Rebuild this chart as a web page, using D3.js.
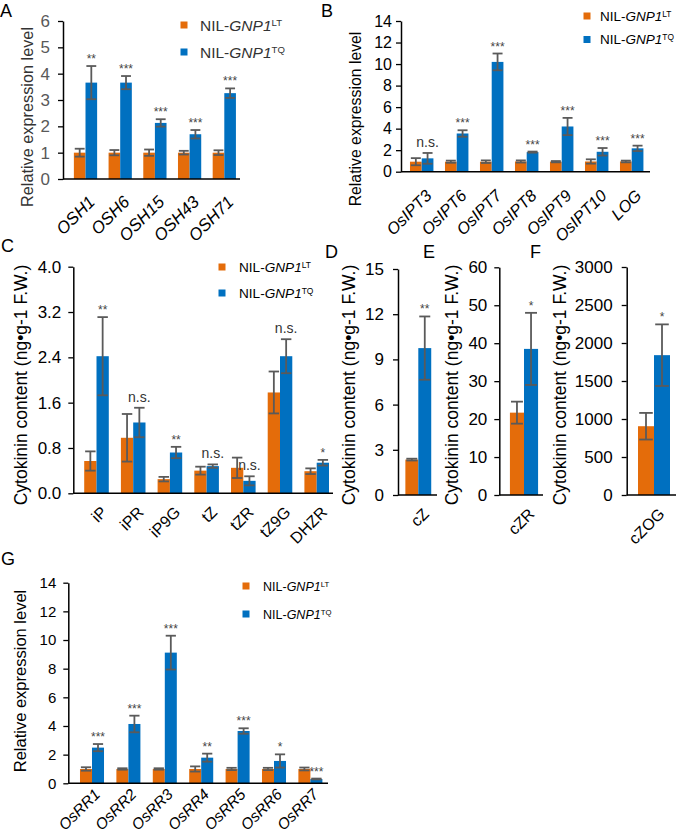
<!DOCTYPE html>
<html><head><meta charset="utf-8">
<script src="https://cdn.jsdelivr.net/npm/d3@7"></script>
<style>
body{margin:0;background:#fff}
svg{display:block}
text{font-family:"Liberation Sans",Arial,Helvetica,sans-serif}
</style>
</head><body>
<svg id="chart" width="676" height="840"></svg>
<script>
// ---------- DATA ----------
const seriesNames = ["LT", "TQ"];

const aGenes  = ["OSH1","OSH6","OSH15","OSH43","OSH71"];
const aLT     = [1.0, 1.0, 1.0, 1.0, 1.0];
const aLTerr  = [0.15, 0.10, 0.12, 0.07, 0.09];
const aTQ     = [3.66, 3.66, 2.13, 1.70, 3.26];
const aTQerr  = [0.63, 0.25, 0.14, 0.16, 0.18];
const aSig    = ["**","***","***","***","***"];
const aTicks  = [0,1,2,3,4,5,6];

const bGenes  = ["OsIPT3","OsIPT6","OsIPT7","OsIPT8","OsIPT9","OsIPT10","LOG"];
const bLT     = [0.93, 0.93, 0.93, 0.95, 0.93, 0.95, 0.95];
const bLTerr  = [0.33, 0.10, 0.12, 0.10, 0.06, 0.20, 0.08];
const bTQ     = [1.24, 3.55, 10.2, 1.82, 4.2, 1.85, 2.17];
const bTQerr  = [0.50, 0.30, 0.78, 0.05, 0.80, 0.35, 0.25];
const bSig    = ["n.s.","***","***","***","***","***","***"];
const bTicks  = [0,2,4,6,8,10,12,14];

const cCats   = ["iP","iPR","iP9G","tZ","tZR","tZ9G","DHZR"];
const cLT     = [0.57, 0.98, 0.25, 0.40, 0.45, 1.78, 0.39];
const cLTerr  = [0.17, 0.42, 0.04, 0.07, 0.18, 0.37, 0.05];
const cTQ     = [2.42, 1.25, 0.72, 0.48, 0.22, 2.42, 0.54];
const cTQerr  = [0.69, 0.26, 0.10, 0.03, 0.08, 0.30, 0.05];
const cSig    = ["**","n.s.","**","n.s.","n.s.","n.s.","*"];
const cTicks  = [0,0.8,1.6,2.4,3.2,4.0];

const dCats = ["cZ"];   const dLT = [2.35]; const dLTerr = [0.06]; const dTQ = [9.75]; const dTQerr = [2.1];  const dSig = ["**"];
const dTicks = [0,3,6,9,12,15];
const eCats = ["cZR"];  const eLT = [21.7]; const eLTerr = [2.9];  const eTQ = [38.5]; const eTQerr = [9.5];  const eSig = ["*"];
const eTicks = [0,10,20,30,40,50,60];
const fCats = ["cZOG"]; const fLT = [905];  const fLTerr = [175];  const fTQ = [1840]; const fTQerr = [405];  const fSig = ["*"];
const fTicks = [0,500,1000,1500,2000,2500,3000];

const gGenes  = ["OsRR1","OsRR2","OsRR3","OsRR4","OsRR5","OsRR6","OsRR7"];
const gLT     = [1.0, 1.0, 1.0, 1.0, 1.0, 1.0, 1.0];
const gLTerr  = [0.12, 0.05, 0.05, 0.18, 0.08, 0.08, 0.10];
const gTQ     = [2.49, 4.14, 9.12, 1.79, 3.65, 1.56, 0.30];
const gTQerr  = [0.25, 0.58, 1.18, 0.28, 0.19, 0.46, 0.03];
const gSig    = ["***","***","***","**","***","*","***"];
const gTicks  = [0,2,4,6,8,10,12,14];

const exprLabel = "Relative expression level";
const ckLabel = "Cytokinin content (ng\u2022g-1 F.W.)";

// ---------- STYLE ----------
const ORANGE = "#E46C0A", BLUE = "#0070C0", ERR = "#5a5a5a";
const svg = d3.select("#chart");

function panel(d, L){
  const y = d3.scaleLinear().domain([0, d.ticks[d.ticks.length-1]]).range([L.y0, L.y1]);
  const x = d3.scaleBand().domain(d.cats).range(L.xr).paddingInner(L.pi).paddingOuter(L.pi/2);
  const bw = x.bandwidth()/2;
  const g = svg.append("g");

  const ax = d3.axisLeft(y).tickValues(d.ticks).tickFormat(d.fmt || d3.format("")).tickSize(5).tickSizeOuter(0).tickPadding(L.tp);
  const ag = g.append("g").attr("transform", `translate(${L.axisX},0)`).call(ax);
  ag.select(".domain").attr("stroke","#000").attr("stroke-width",1.5);
  ag.selectAll(".tick line").attr("stroke","#000").attr("stroke-width",1.3);
  ag.selectAll(".tick text").attr("font-size",L.tf).attr("fill",L.tc||"#000")
    .attr("font-family",'"Liberation Sans",Arial,sans-serif');

  const series = [
    {vals:d.lt, errs:d.ltErr, color:ORANGE, off:0},
    {vals:d.tq, errs:d.tqErr, color:BLUE, off:bw}
  ];
  series.forEach(s=>{
    g.selectAll(null).data(d.cats).enter().append("rect")
      .attr("x",c=>x(c)+s.off).attr("width",bw)
      .attr("y",(c,i)=>y(s.vals[i])).attr("height",(c,i)=>y(0)-y(s.vals[i]))
      .attr("fill",s.color);
  });
  g.append("line").attr("x1",L.axisX).attr("x2",L.axisEnd).attr("y1",y(0)).attr("y2",y(0))
    .attr("stroke","#000").attr("stroke-width",1.5);
  const capW = bw*0.85;
  series.forEach(s=>{
    d.cats.forEach((c,i)=>{
      const cx = x(c)+s.off+bw/2;
      const hi = y(s.vals[i]+s.errs[i]), lo = y(Math.max(0,s.vals[i]-s.errs[i]));
      g.append("line").attr("x1",cx).attr("x2",cx).attr("y1",hi).attr("y2",lo).attr("stroke",ERR).attr("stroke-width",1.8);
      [hi,lo].forEach(yy=>g.append("line").attr("x1",cx-capW/2).attr("x2",cx+capW/2).attr("y1",yy).attr("y2",yy)
        .attr("stroke",ERR).attr("stroke-width",1.8));
    });
  });
  d.cats.forEach((c,i)=>{
    const cx = x(c)+bw*1.5;
    const top = y(d.tq[i]+d.tqErr[i]);
    const ns = d.sig[i]==="n.s.";
    g.append("text").attr("x",cx).attr("y", ns ? top-6 : top-3)
      .attr("text-anchor","middle").attr("font-size", ns ? L.nsf : L.sf)
      .attr("fill", ns ? "#333" : "#444").text(d.sig[i]);
  });
  d.cats.forEach(c=>{
    const cx = x(c)+bw + L.ldx, cy = y(0)+L.ldy;
    g.append("text").attr("transform",`translate(${cx},${cy}) rotate(${L.rot})`)
      .attr("text-anchor","end").attr("font-size",L.xf).attr("font-style",L.italic?"italic":"normal")
      .attr("fill","#000").text(c);
  });
  g.append("text").attr("transform",`translate(${L.ylx},${L.yly}) rotate(-90)`)
    .attr("text-anchor","middle").attr("font-size",L.ylf).attr("fill",L.ylc||"#000").text(d.ylabel);
  if (L.leg){
    [ORANGE,BLUE].forEach((col,k)=>{
      const ly = L.leg.y + k*L.leg.dy;
      g.append("rect").attr("x",L.leg.x-3.5).attr("y",ly-3.5).attr("width",7).attr("height",7).attr("fill",col);
      const t = g.append("text").attr("x",L.leg.tx).attr("y",ly+L.leg.fs*0.36).attr("font-size",L.leg.fs).attr("fill",L.leg.c||"#000");
      t.append("tspan").text("NIL-");
      t.append("tspan").attr("font-style","italic").text("GNP1");
      t.append("tspan").attr("font-size",L.leg.fs*0.62).attr("dy",-L.leg.fs*0.3).text(seriesNames[k]);
    });
  }
  svg.append("text").attr("x",L.letter[0]).attr("y",L.letter[1]).attr("font-size",18).attr("fill","#000").text(L.letter[2]);
}

panel({cats:aGenes, lt:aLT, ltErr:aLTerr, tq:aTQ, tqErr:aTQerr, sig:aSig, ticks:aTicks, ylabel:exprLabel},
  {y0:179, y1:21, xr:[68.15,241.65], pi:0.33, axisX:63, axisEnd:240, tp:8, tf:17, tc:"#595959",
   sf:12, nsf:14, ldx:10.5, ldy:24, rot:-45, xf:17, italic:true, ylx:33, yly:117, ylf:16.3, ylc:"#333",
   leg:{x:184, y:25, dy:27, tx:200, fs:15.5, c:"#333"}, letter:[0,17,"A"]});

panel({cats:bGenes, lt:bLT, ltErr:bLTerr, tq:bTQ, tqErr:bTQerr, sig:bSig, ticks:bTicks, ylabel:exprLabel},
  {y0:171.7, y1:21, xr:[404.2,649.2], pi:0.33, axisX:401, axisEnd:650, tp:4, tf:16, ldx:11, ldy:25, rot:-45, xf:16.5, italic:true,
   sf:12, nsf:14, ylx:361, yly:119, ylf:15.8,
   leg:{x:587, y:16, dy:23.5, tx:600, fs:13.5}, letter:[321,17,"B"]});

panel({cats:cCats, lt:cLT, ltErr:cLTerr, tq:cTQ, tqErr:cTQerr, sig:cSig, ticks:cTicks, fmt:d3.format(".1f"), ylabel:ckLabel},
  {y0:493.3, y1:266.7, xr:[78.15,335.05], pi:0.33, axisX:73.3, axisEnd:333, tp:7, tf:17, ldx:11.5, ldy:20, rot:-45, xf:16, italic:false,
   sf:12, nsf:14, ylx:27, yly:385, ylf:17.5,
   leg:{x:222, y:267, dy:26, tx:239, fs:13.6}, letter:[1,252,"C"]});

panel({cats:dCats, lt:dLT, ltErr:dLTerr, tq:dTQ, tqErr:dTQerr, sig:dSig, ticks:dTicks, ylabel:ckLabel},
  {y0:495, y1:269, xr:[399,437.6], pi:0.33, axisX:398, axisEnd:437, tp:9, tf:17, ldx:11.5, ldy:20, rot:-45, xf:16, italic:false,
   sf:12, nsf:14, ylx:355, yly:385, ylf:17.5, letter:[325,258,"D"]});

panel({cats:eCats, lt:eLT, ltErr:eLTerr, tq:eTQ, tqErr:eTQerr, sig:eSig, ticks:eTicks, ylabel:ckLabel},
  {y0:495, y1:267.3, xr:[499.3,548.7], pi:0.43, axisX:499.3, axisEnd:543, tp:7, tf:17, ldx:11.5, ldy:20, rot:-45, xf:16, italic:false,
   sf:12, nsf:14, ylx:458, yly:385, ylf:17.5, letter:[423,258,"E"]});

panel({cats:fCats, lt:fLT, ltErr:fLTerr, tq:fTQ, tqErr:fTQerr, sig:fSig, ticks:fTicks, ylabel:ckLabel},
  {y0:495, y1:267, xr:[626.7,681.3], pi:0.414, axisX:626.7, axisEnd:676, tp:9, tf:17, ldx:11.5, ldy:20, rot:-45, xf:16, italic:false,
   sf:12, nsf:14, ylx:566, yly:385, ylf:17.5, letter:[530,258,"F"]});

panel({cats:gGenes, lt:gLT, ltErr:gLTerr, tq:gTQ, tqErr:gTQerr, sig:gSig, ticks:gTicks, ylabel:exprLabel},
  {y0:783.3, y1:582.7, xr:[73.8,328.6], pi:0.34, axisX:68.3, axisEnd:328, tp:7, tf:15, ldx:9, ldy:12, rot:-45, xf:15.5, italic:true,
   sf:12, nsf:14, ylx:26, yly:681, ylf:16.5,
   leg:{x:246, y:586, dy:28, tx:263, fs:12.5}, letter:[1,565,"G"]});
</script>
</body></html>
